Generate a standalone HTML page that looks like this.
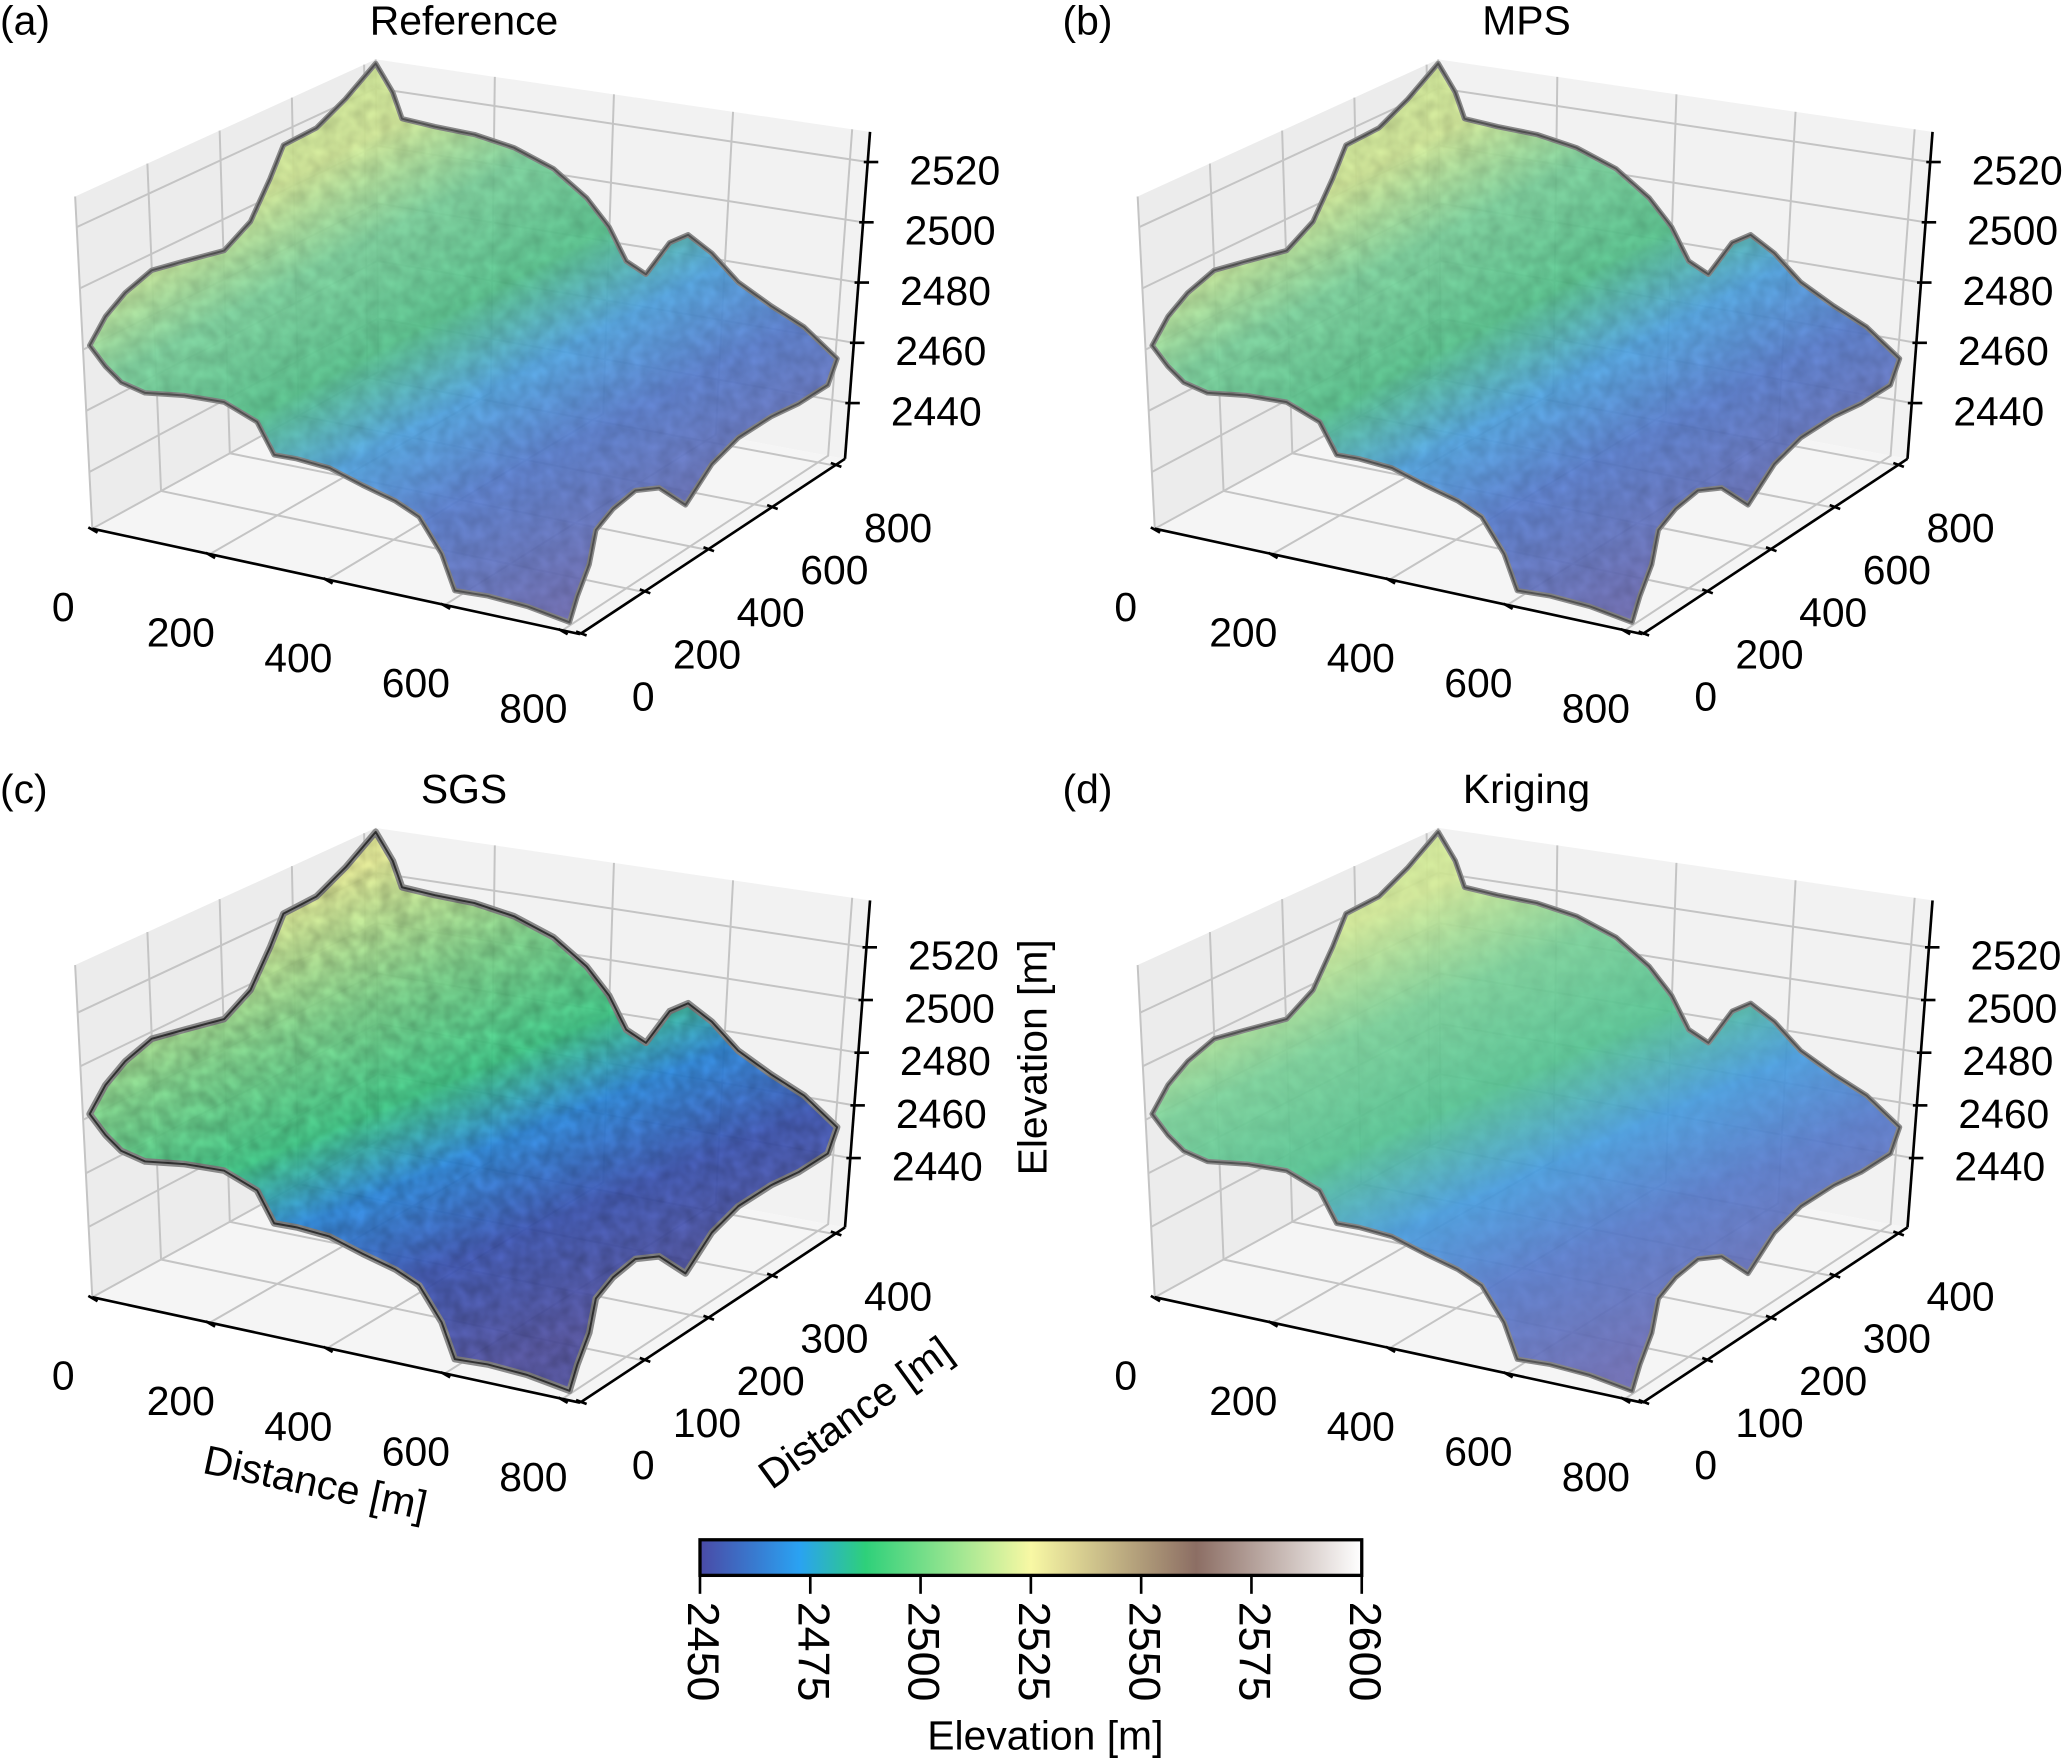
<!DOCTYPE html>
<html><head><meta charset="utf-8">
<style>
html,body{margin:0;padding:0;background:#fff;}
svg{display:block;}
text{font-family:"Liberation Sans",Arial,sans-serif;fill:#000;}
</style></head>
<body>
<svg id="fig" width="2067" height="1760" viewBox="0 0 1568 1335" xmlns="http://www.w3.org/2000/svg">
<defs>
<linearGradient id="cbar" x1="0" y1="0" x2="1" y2="0">
<stop offset="0" stop-color="#4a4aa6"/>
<stop offset="0.15" stop-color="#2aa2f2"/>
<stop offset="0.25" stop-color="#2ed07a"/>
<stop offset="0.5" stop-color="#f8f8a4"/>
<stop offset="0.75" stop-color="#8c6e64"/>
<stop offset="1" stop-color="#ffffff"/>
</linearGradient>
<linearGradient id="surf" gradientUnits="userSpaceOnUse" x1="250" y1="120" x2="430" y2="460">
<stop offset="0" stop-color="#d6ee9a"/>
<stop offset="0.18" stop-color="#7ed8a0"/>
<stop offset="0.38" stop-color="#58c890"/>
<stop offset="0.55" stop-color="#52a8e8"/>
<stop offset="0.72" stop-color="#5a80d4"/>
<stop offset="1" stop-color="#6e6eb8"/>
</linearGradient>
<linearGradient id="surfK" gradientUnits="userSpaceOnUse" x1="260" y1="100" x2="420" y2="460">
<stop offset="0" stop-color="#d6ee9a"/>
<stop offset="0.2" stop-color="#7cd59c"/>
<stop offset="0.4" stop-color="#58c896"/>
<stop offset="0.58" stop-color="#4aa0e4"/>
<stop offset="0.75" stop-color="#5a7ed0"/>
<stop offset="1" stop-color="#6e6eb8"/>
</linearGradient>
<linearGradient id="surfS" gradientUnits="userSpaceOnUse" x1="260" y1="80" x2="410" y2="440">
<stop offset="0" stop-color="#eef59a"/>
<stop offset="0.25" stop-color="#7fdc8e"/>
<stop offset="0.45" stop-color="#3ed08a"/>
<stop offset="0.6" stop-color="#2c8ee8"/>
<stop offset="0.78" stop-color="#3e58bc"/>
<stop offset="1" stop-color="#5454a8"/>
</linearGradient>
<filter id="rough"><feTurbulence type="fractalNoise" baseFrequency="0.09" numOctaves="2" seed="3"/><feColorMatrix type="matrix" values="0 0 0 0 0  0 0 0 0 0  0 0 0 0 0  0 0 0 0.35 -0.05"/><feComposite in2="SourceGraphic" operator="in"/></filter>
</defs>
</svg>
<script>
// ---- data ----
const xTicks = [0, 200, 400, 600, 800];
const yTicksA = [0, 200, 400, 600, 800];
const yTicksC = [0, 100, 200, 300, 400];
const zTicks = [2440, 2460, 2480, 2500, 2520];
const cbTicks = [2450, 2475, 2500, 2525, 2550, 2575, 2600];
const panelTitles = ["Reference", "MPS", "SGS", "Kriging"];
const panelLetters = ["(a)", "(b)", "(c)", "(d)"];

const NS = "http://www.w3.org/2000/svg";
const svg = document.getElementById('fig');
function mk(tag, attrs, parent) {
  const e = document.createElementNS(NS, tag);
  for (const k in attrs) e.setAttribute(k, attrs[k]);
  (parent || svg).appendChild(e);
  return e;
}
const FL=[70,401], FR=[440,481], BR=[641,348], BL=[287,282];
const FLt=[57,149], BLt=[285,45], BRt=[660,100];
function lerp(a,b,t){return [a[0]+(b[0]-a[0])*t, a[1]+(b[1]-a[1])*t];}
function floorPt(u,v){
  const f = lerp(FL,FR,u), b = lerp(BL,BR,u);
  return lerp(f,b,v);
}
function leftWall(v,w){ return lerp(lerp(FL,BL,v), lerp(FLt,BLt,v), w); }
function backWall(u,w){ return lerp(lerp(BL,BR,u), lerp(BLt,BRt,u), w); }
function zAxisPt(w){ return lerp(BR,BRt,w); }

const outline = [[68,262],[80,240],[95,222],[115,205],[140,198],[170,190],[190,168],[205,135],[215,110],[240,97],[262,75],[285,48],[298,70],[305,90],[330,96],[360,102],[390,112],[420,128],[445,150],[462,172],[475,198],[490,208],[508,184],[522,178],[540,192],[560,214],[585,232],[610,248],[635,272],[628,292],[606,306],[585,316],[560,332],[540,352],[520,383],[500,370],[482,372],[465,386],[452,402],[447,428],[438,452],[432,472],[400,460],[370,452],[345,448],[335,420],[318,392],[300,380],[275,368],[250,355],[225,348],[208,345],[195,320],[170,305],[140,300],[110,298],[92,290],[80,278]];

function panel(idx, ox, oy, yTicks, zMin, zMax, grad) {
  const g = mk('g', {transform:`translate(${ox},${oy})`});
  
  
  const pts = a => a.map(p=>p.join(',')).join(' ');
  const lw = mk('polygon',{points:pts([FL,BL,BLt,FLt]),fill:'#ececec'},g);
   
  const bw = mk('polygon',{points:pts([BL,BR,BRt,BLt]),fill:'#f2f2f2'},g);
   
  const fl = mk('polygon',{points:pts([FL,FR,BR,BL]),fill:'#f5f5f5'},g);
   
  const xMax = 830, yMax = yTicks[yTicks.length-1]*1.04;
  const xs = v=>v/xMax, ys = v=>v/yMax, zs = v=>(v-zMin)/(zMax-zMin);
  const gs = {stroke:'#c4c4c4','stroke-width':1.5,fill:'none'};
  xTicks.forEach(t=>{
    const u=xs(t);
    const a=floorPt(u,0), b=floorPt(u,1), c=backWall(u,1);
    const l = mk('polyline',Object.assign({points:pts([a,b,c])},gs),g);
     
  });
  yTicks.forEach(t=>{
    const v=ys(t);
    const a=lerp(FR,BR,v), b=lerp(FL,BL,v), c=leftWall(v,1);
    const l = mk('polyline',Object.assign({points:pts([a,b,c])},gs),g);
     
  });
  zTicks.forEach(t=>{
    const w=zs(t);
    const a=leftWall(0,w), b=leftWall(1,w), c=backWall(1,w);
    const l = mk('polyline',Object.assign({points:pts([a,b,c])},gs),g);
     
  });
  const sp = mk('polygon',{points:pts(outline),fill:`url(#${grad})`,'fill-opacity':0.93,stroke:'#8a8a8a','stroke-width':idx==2?5:4,'stroke-linejoin':'round'},g);
   
  const sp2 = mk('polygon',{points:pts(outline),fill:'none',stroke:idx==2?'#333':'#555','stroke-width':1.5,'stroke-linejoin':'round'},g);
   
  const tx = mk('polygon',{points:pts(outline),fill:'#888',filter:'url(#rough)','opacity':idx==3?0.3:(idx==2?0.9:0.6)},g);
   
  const ax = {stroke:'#000','stroke-width':2,fill:'none'};
  const xa = mk('line',Object.assign({x1:FL[0],y1:FL[1],x2:FR[0],y2:FR[1]},ax),g);
   
  const ya = mk('line',Object.assign({x1:FR[0],y1:FR[1],x2:BR[0],y2:BR[1]},ax),g);
   
  const za = mk('line',Object.assign({x1:BR[0],y1:BR[1],x2:BRt[0],y2:BRt[1]},ax),g);
   
  const fs = 31;
  xTicks.forEach(t=>{
    const p=floorPt(xs(t),0);
    mk('line',{x1:p[0]-3,y1:p[1]-1,x2:p[0]+4,y2:p[1]+3,stroke:'#000','stroke-width':2},g);
    const tl = mk('text',{x:p[0]-22,y:p[1]+70,'font-size':fs,'text-anchor':'middle'},g);
    tl.textContent = t;
     
  });
  yTicks.forEach(t=>{
    const p=lerp(FR,BR,ys(t));
    mk('line',{x1:p[0]-3,y1:p[1]-2,x2:p[0]+5,y2:p[1]+1,stroke:'#000','stroke-width':2},g);
    const tl = mk('text',{x:p[0]+48,y:p[1]+58,'font-size':fs,'text-anchor':'middle'},g);
    tl.textContent = t;
     
  });
  zTicks.forEach(t=>{
    const p=zAxisPt(zs(t));
    mk('line',{x1:p[0]-3,y1:p[1],x2:p[0]+8,y2:p[1],stroke:'#000','stroke-width':2},g);
    const tl = mk('text',{x:p[0]+66,y:p[1]+17,'font-size':fs,'text-anchor':'middle'},g);
    tl.textContent = t;
     
  });
  const tt = mk('text',{x:352,y:26,'font-size':31,'text-anchor':'middle'},g);
  tt.textContent = panelTitles[idx];
   
  const lt = mk('text',{x:0,y:26,'font-size':31},g);
  lt.textContent = panelLetters[idx];
   
  return g;
}
panel(0, 0, 0, yTicksA, 2421.5, 2530, 'surf');
panel(1, 806, 0, yTicksA, 2421.5, 2530, 'surf');
panel(2, 0, 583, yTicksC, 2413.7, 2537.8, 'surfS');
panel(3, 806, 583, yTicksC, 2413.7, 2537.8, 'surfK');

const at1 = mk('text',{x:237,y:1135,'font-size':31,'text-anchor':'middle',transform:'rotate(12 237 1135)'});
at1.textContent='Distance [m]';
 
const at2 = mk('text',{x:655,y:1080,'font-size':31,'text-anchor':'middle',transform:'rotate(-36 655 1080)'});
at2.textContent='Distance [m]';
 
const at3 = mk('text',{x:794,y:802,'font-size':31,'text-anchor':'middle',transform:'rotate(-90 794 802)'});
at3.textContent='Elevation [m]';
 

const cbMin = 2450, cbMax = 2600, cbX0 = 531, cbX1 = 1033, cbY0 = 1168, cbY1 = 1195;
const cbx = v => cbX0 + (v-cbMin)/(cbMax-cbMin)*(cbX1-cbX0);
const cb = mk('rect',{x:cbX0,y:cbY0,width:cbX1-cbX0,height:cbY1-cbY0,fill:'url(#cbar)',stroke:'#000','stroke-width':2.5});
 
cbTicks.forEach(t=>{
  const x = cbx(t);
  const tk = mk('line',{x1:x,y1:cbY1,x2:x,y2:cbY1+14,stroke:'#000','stroke-width':2});
   
  const tl = mk('text',{x:x,y:cbY1+20,'font-size':34,transform:`rotate(90 ${x} ${cbY1+20})`,'dominant-baseline':'middle'});
  tl.textContent = t;
   
});
const cbt = mk('text',{x:793,y:1327,'font-size':31,'text-anchor':'middle'});
cbt.textContent='Elevation [m]';
 
</script>
</body></html>
